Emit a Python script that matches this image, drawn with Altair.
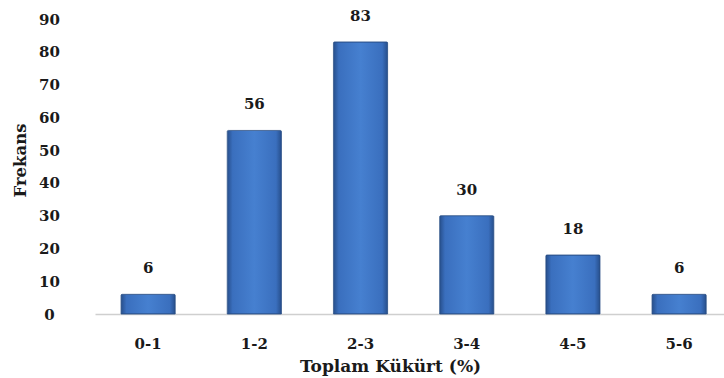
import altair as alt
import pandas as pd

categories = ["0-1", "1-2", "2-3", "3-4", "4-5", "5-6"]
frequencies = [6, 56, 83, 30, 18, 6]
y_ticks = [0, 10, 20, 30, 40, 50, 60, 70, 80, 90]

df = pd.DataFrame({"cat": categories, "freq": frequencies})

FONT = "DejaVu Serif"

x_enc = alt.X(
    "cat:N",
    sort=categories,
    scale=alt.Scale(paddingInner=0.49, paddingOuter=0.2065, align=0.594),
    axis=alt.Axis(
        title="Toplam Kükürt (%)",
        labelAngle=0,
        labelFont=FONT, labelFontSize=15, labelFontWeight="bold", labelColor="#1a1a1a",
        labelPadding=22, labelBaseline="top",
        ticks=False,
        domainColor="#cfcfcf", domainWidth=1.5,
        titleFont=FONT, titleFontSize=17, titleFontWeight="bold", titleColor="#1a1a1a",
        titleX=295, titleY=57, titleBaseline="alphabetic", titleAnchor="start", titleAlign="center",
    ),
)

y_axis = alt.Axis(
    title="Frekans",
    values=y_ticks,
    tickCount=10,
    labelOverlap=False,
    grid=False, domain=False, ticks=False,
    labelFont=FONT, labelFontSize=15, labelFontWeight="bold", labelColor="#1a1a1a",
    labelPadding=46, labelAlign="center",
    titleFont=FONT, titleFontSize=16.5, titleFontWeight="bold", titleColor="#1a1a1a",
    titleX=-75, titleY=141, titleBaseline="middle", titleAlign="center", titleAngle=-90,
)

y_scale = alt.Scale(domain=[0, 90], nice=False)

grad = alt.Gradient(
    gradient="linear",
    stops=[
        alt.GradientStop(color="#274f8c", offset=0),
        alt.GradientStop(color="#3a6fbe", offset=0.1),
        alt.GradientStop(color="#4680d0", offset=0.5),
        alt.GradientStop(color="#3a6fbe", offset=0.9),
        alt.GradientStop(color="#274f8c", offset=1),
    ],
    x1=0, x2=1, y1=0, y2=0,
)

bars = alt.Chart(df).mark_bar(color=grad, stroke="#2a4f86", strokeWidth=0.8, cornerRadiusTopLeft=1, cornerRadiusTopRight=1).encode(
    x=x_enc, y=alt.Y("freq:Q", scale=y_scale, axis=y_axis)
)

labels = alt.Chart(df).mark_text(
    font=FONT, fontSize=15, fontWeight="bold", color="#1a1a1a",
    baseline="alphabetic", dy=-21,
).encode(
    x=alt.X("cat:N", sort=categories),
    y=alt.Y("freq:Q", scale=y_scale, axis=y_axis),
    text="freq:Q",
)

chart = alt.layer(bars, labels).properties(
    width=629, height=295,
    padding={"left": 95, "top": 19, "right": 0, "bottom": 64},
    autosize=alt.AutoSizeParams(type="none"),
    background="white",
).configure_view(stroke=None).configure_axisY(labelOverlap=False)

chart.save("out.html", embed_options={"renderer": "svg", "actions": False})
